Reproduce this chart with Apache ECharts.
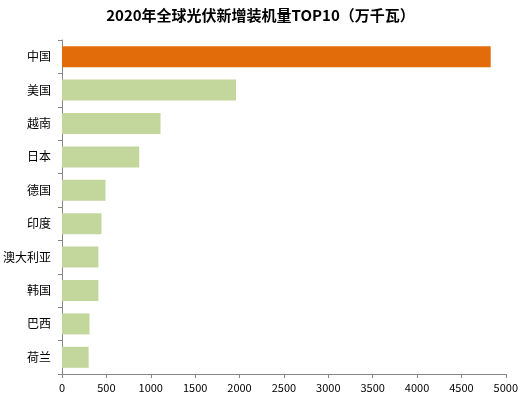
<!DOCTYPE html>
<html lang="zh">
  <head>
    <meta charset="UTF-8" />
    <title>2020 光伏新增装机</title>
    <style>
      body, html {
        margin: 0;
        width: 100%;
        height: 100%;
        background: #fff;
      }
    </style>
  </head>
  <body>
    <div id="main" style="width:521px;height:397px;"></div>

    <script src="https://cdn.jsdelivr.net/npm/echarts@6/dist/echarts.min.js"></script>
    <script>
      const countries = ['中国', '美国', '越南', '日本', '德国', '印度', '澳大利亚', '韩国', '巴西', '荷兰'];
      const capacity = [4830, 1960, 1110, 870, 490, 445, 410, 410, 310, 300];
      const xTicks = [0, 500, 1000, 1500, 2000, 2500, 3000, 3500, 4000, 4500, 5000];

      const font = '"Noto Sans CJK SC", "Liberation Sans", sans-serif';
      const axisGray = '#868686';

      const myChart = echarts.init(document.getElementById('main'));

      const option = {
        animation: false,
        title: {
          text: '2020年全球光伏新增装机量TOP10（万千瓦）',
          left: 'center',
          top: 3,
          textStyle: {
            fontFamily: font,
            fontSize: 15,
            fontWeight: 'bold',
            color: '#000',
          },
        },
        grid: {
          left: 61,
          right: 15,
          top: 40,
          bottom: 23,
        },
        xAxis: {
          type: 'value',
          min: xTicks[0],
          max: xTicks[xTicks.length - 1],
          interval: 500,
          axisLine: { show: true, lineStyle: { color: axisGray } },
          axisTick: { show: true, length: 4, lineStyle: { color: axisGray } },
          splitLine: { show: false },
          axisLabel: {
            color: '#000',
            fontFamily: font,
            fontSize: 11,
            margin: 8,
            formatter: v => String(v),
          },
        },
        yAxis: {
          type: 'category',
          inverse: true,
          data: countries,
          axisLine: { show: true, lineStyle: { color: axisGray } },
          axisTick: { show: true, length: 4, lineStyle: { color: axisGray } },
          axisLabel: {
            color: '#000',
            fontFamily: font,
            fontSize: 12,
            margin: 11,
          },
        },
        series: [
          {
            type: 'bar',
            barWidth: 21,
            data: capacity.map((v, i) => ({
              value: v,
              itemStyle: { color: i === 0 ? '#E36C0A' : '#C3D69B' },
            })),
          },
        ],
      };

      myChart.setOption(option);
    </script>
  </body>
</html>
